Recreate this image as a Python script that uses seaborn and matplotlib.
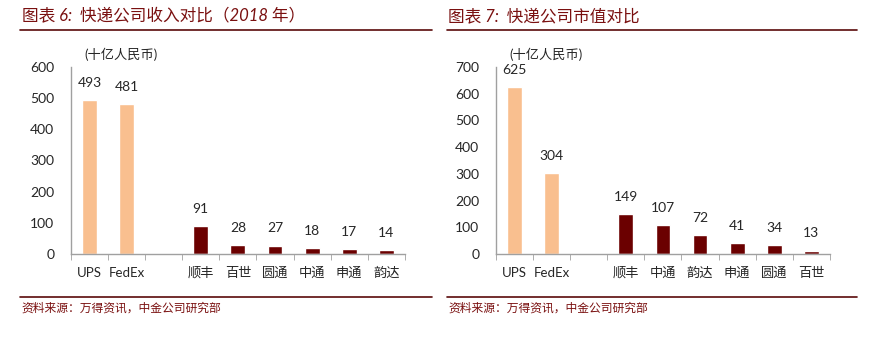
import matplotlib
matplotlib.use("Agg")
import matplotlib.pyplot as plt
import seaborn as sns
import pandas as pd
from matplotlib.lines import Line2D

sns.set_style("white")
plt.rcParams['font.family'] = ['Lato', 'Noto Sans CJK SC', 'DejaVu Sans']

# chart 6: revenue 2018
rev_companies = ["UPS", "FedEx", "顺丰", "百世", "圆通", "中通", "申通", "韵达"]
rev_values = [493, 481, 91, 28, 27, 18, 17, 14]
rev_order = ["UPS", "FedEx", "", "顺丰", "百世", "圆通", "中通", "申通", "韵达"]

# chart 7: market cap
cap_companies = ["UPS", "FedEx", "顺丰", "中通", "韵达", "申通", "圆通", "百世"]
cap_values = [625, 304, 149, 107, 72, 41, 34, 13]
cap_order = ["UPS", "FedEx", "", "顺丰", "中通", "韵达", "申通", "圆通", "百世"]

foreign = ["UPS", "FedEx"]
LIGHT = "#F9BF8F"
DARK = "#6B0000"
TITLE_C = "#7A1010"


def draw(ax, names, vals, order, ymax, ystep):
    df = pd.DataFrame({"company": names, "value": vals})
    df["group"] = ["foreign" if c in foreign else "domestic" for c in names]
    sns.barplot(data=df, x="company", y="value", hue="group", order=order,
                hue_order=["foreign", "domestic"], palette=[LIGHT, DARK],
                dodge=False, width=0.4, legend=False, ax=ax, saturation=1)
    for c, v in zip(names, vals):
        ax.annotate(str(v), (order.index(c), v), xytext=(0, 8),
                    textcoords="offset points", ha="center", va="bottom",
                    fontsize=10)
    ax.set_ylim(0, ymax)
    ax.set_yticks(range(0, ymax + 1, ystep))
    ax.set_xlim(-0.5, len(order) - 0.5)
    ax.set_xlabel("")
    ax.set_ylabel("")
    for s in ["top", "right"]:
        ax.spines[s].set_visible(False)
    for s in ["left", "bottom"]:
        ax.spines[s].set_color("#A0A0A0")
        ax.spines[s].set_linewidth(1)
    ax.set_xticks([i - 0.5 for i in range(len(order) + 1)], minor=True)
    ax.tick_params(axis="x", which="major", length=0, labelsize=9.5, pad=9)
    ax.tick_params(axis="x", which="minor", length=4, color="#A0A0A0",
                   direction="out", bottom=True)
    ax.tick_params(axis="y", length=0, labelsize=10, pad=12)
    ax.text(0.04, 1.03, "(十亿人民币)", transform=ax.transAxes,
            fontsize=9.5, ha="left", va="bottom")


fig = plt.figure(figsize=(8.74, 3.55), dpi=100)
ax1 = fig.add_axes([0.0812, 0.2845, 0.382, 0.527])
ax2 = fig.add_axes([0.5675, 0.2845, 0.382, 0.527])

draw(ax1, rev_companies, rev_values, rev_order, 600, 100)
draw(ax2, cap_companies, cap_values, cap_order, 700, 100)

# titles and rules
fig.text(0.025, 0.955, "图表 6:  快递公司收入对比（2018 年）", color=TITLE_C,
         fontsize=12, style="italic", ha="left", va="center")
fig.text(0.513, 0.955, "图表 7:  快递公司市值对比", color=TITLE_C,
         fontsize=12, style="italic", ha="left", va="center")
for x0, x1 in [(0.023, 0.494), (0.511, 0.981)]:
    fig.add_artist(Line2D([x0, x1], [0.915, 0.915], color="#5A0A0A", lw=1.2))
    fig.add_artist(Line2D([x0, x1], [0.163, 0.163], color="#5A0A0A", lw=1.2))
fig.text(0.025, 0.132, "资料来源：万得资讯，中金公司研究部", color=TITLE_C,
         fontsize=8.5, style="italic", ha="left", va="center")
fig.text(0.513, 0.132, "资料来源：万得资讯，中金公司研究部", color=TITLE_C,
         fontsize=8.5, style="italic", ha="left", va="center")

fig.savefig("out.png", dpi=100)
